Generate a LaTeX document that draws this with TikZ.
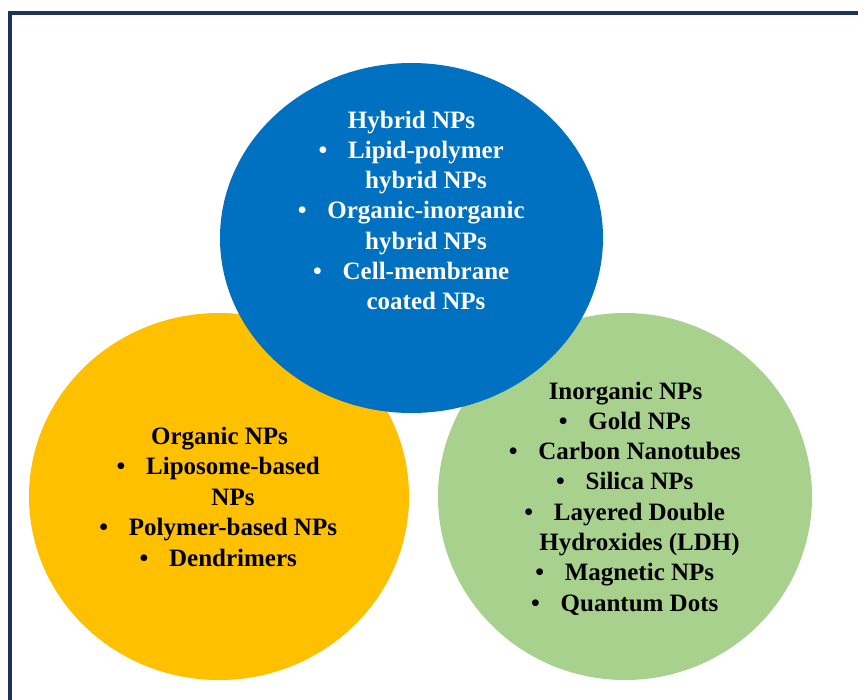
\documentclass[tikz,border=0pt]{standalone}
\usepackage{fontspec}
\setmainfont{Liberation Serif}
\definecolor{framecol}{HTML}{1F3258}
\definecolor{bluecol}{HTML}{0070C0}
\definecolor{yellowcol}{HTML}{FFC000}
\definecolor{greencol}{HTML}{A9D18E}
\begin{document}
\begin{tikzpicture}[x=1pt,y=-1pt,
  txt/.style={inner sep=0pt, anchor=base, font=\fontsize{25}{30}\selectfont\bfseries},
  wtxt/.style={txt, text=white},
  btxt/.style={txt, text=black}]
\useasboundingbox (0,0) rectangle (858,699);
\clip (0,0) rectangle (858,699);
\fill[white] (0,0) rectangle (858,699);
\draw[framecol, line width=4pt] (10,705) -- (10,13) -- (865,13);
% circles
\fill[yellowcol] (219,496.5) ellipse [x radius=190pt, y radius=183.5pt];
\fill[greencol] (625,496.5) ellipse [x radius=187pt, y radius=183.5pt];
\fill[bluecol] (411.5,238) ellipse [x radius=191.5pt, y radius=175pt];
% Hybrid
\node[wtxt] (h0) at (411.5,128) {Hybrid NPs};
\node[wtxt] (h1) at (426,158.3) {Lipid-polymer};
\node[wtxt] (h1b) at ([xshift=-25pt]h1.base west) {•};
\node[wtxt] (h2) at (426,188.5) {hybrid NPs};
\node[wtxt] (h3) at (426,218.8) {Organic-inorganic};
\node[wtxt] (h3b) at ([xshift=-25pt]h3.base west) {•};
\node[wtxt] (h4) at (426,249) {hybrid NPs};
\node[wtxt] (h5) at (426,279.3) {Cell-membrane};
\node[wtxt] (h5b) at ([xshift=-25pt]h5.base west) {•};
\node[wtxt] (h6) at (426,309.5) {coated NPs};
% Organic
\node[btxt] (o0) at (219.5,444) {Organic NPs};
\node[btxt] (o1) at (233,474.5) {Liposome-based};
\node[btxt] (o1b) at ([xshift=-25pt]o1.base west) {•};
\node[btxt] (o2) at (233,505) {NPs};
\node[btxt] (o3) at (233,535.5) {Polymer-based NPs};
\node[btxt] (o3b) at ([xshift=-25pt]o3.base west) {•};
\node[btxt] (o4) at (233,566) {Dendrimers};
\node[btxt] (o4b) at ([xshift=-25pt]o4.base west) {•};
% Inorganic
\node[btxt] (i0) at (625.5,399) {Inorganic NPs};
\node[btxt] (i1) at (639.5,429.3) {Gold NPs};
\node[btxt] (i1b) at ([xshift=-25pt]i1.base west) {•};
\node[btxt] (i2) at (639.5,459.6) {Carbon Nanotubes};
\node[btxt] (i2b) at ([xshift=-25pt]i2.base west) {•};
\node[btxt] (i3) at (639.5,489.9) {Silica NPs};
\node[btxt] (i3b) at ([xshift=-25pt]i3.base west) {•};
\node[btxt] (i4) at (639.5,520.2) {Layered Double};
\node[btxt] (i4b) at ([xshift=-25pt]i4.base west) {•};
\node[btxt] (i5) at (639.5,550.5) {Hydroxides (LDH)};
\node[btxt] (i6) at (639.5,580.8) {Magnetic NPs};
\node[btxt] (i6b) at ([xshift=-25pt]i6.base west) {•};
\node[btxt] (i7) at (639.5,611) {Quantum Dots};
\node[btxt] (i7b) at ([xshift=-25pt]i7.base west) {•};
\end{tikzpicture}
\end{document}
